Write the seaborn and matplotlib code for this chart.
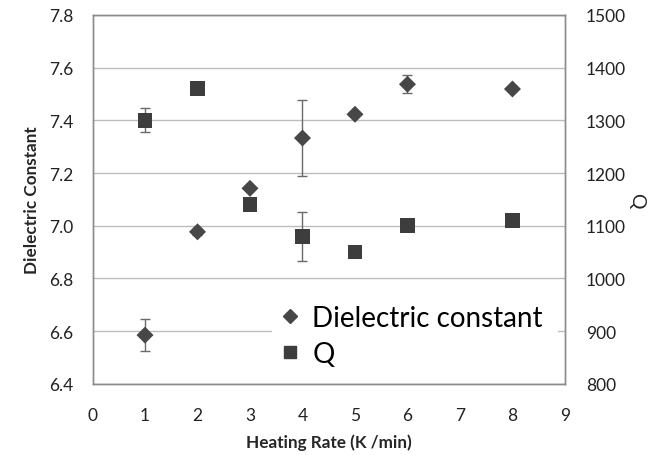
import matplotlib
matplotlib.use("Agg")
import matplotlib.pyplot as plt
import seaborn as sns
import pandas as pd

# ============================
# DATA
# ============================
heating_rate = [1, 2, 3, 4, 5, 6, 8]
dielectric = [6.585, 6.977, 7.142, 7.333, 7.423, 7.537, 7.519]
dielectric_err = [0.06, 0.012, 0.0, 0.145, 0.0, 0.035, 0.0]
q_values = [1300, 1360, 1140, 1080, 1050, 1100, 1110]
q_err = [23, 0, 0, 47, 0, 0, 0]

x_ticks = list(range(0, 10))
left_ticks = [6.4, 6.6, 6.8, 7.0, 7.2, 7.4, 7.6, 7.8]
right_ticks = [800, 900, 1000, 1100, 1200, 1300, 1400, 1500]

df = pd.DataFrame({
    "rate": heating_rate,
    "eps": dielectric,
    "eps_err": dielectric_err,
    "Q": q_values,
    "Q_err": q_err,
})

# ============================
# STYLE
# ============================
sns.set_style("white")
plt.rcParams["font.family"] = ["Lato", "DejaVu Sans"]

marker_col = "#474747"
err_col = "#6a6a6a"
grid_col = "#bdbdbd"
spine_col = "#8c8c8c"
text_col = "#222222"

fig = plt.figure(figsize=(6.67, 4.56), dpi=100)
ax1 = fig.add_axes([0.1387, 0.156, 0.7083, 0.809])
ax2 = ax1.twinx()

# ============================
# DIELECTRIC CONSTANT (left axis)
# ============================
ax1.errorbar(df["rate"], df["eps"], yerr=df["eps_err"], fmt="none",
             ecolor=err_col, elinewidth=1, capsize=3.5, capthick=1, zorder=2)
sns.scatterplot(data=df, x="rate", y="eps", ax=ax1, marker="D", s=75,
                color=marker_col, edgecolor="none", zorder=3, legend=False)

# ============================
# Q (right axis)
# ============================
ax2.errorbar(df["rate"], df["Q"], yerr=df["Q_err"], fmt="none",
             ecolor=err_col, elinewidth=1, capsize=3.5, capthick=1, zorder=2)
sns.scatterplot(data=df, x="rate", y="Q", ax=ax2, marker="s", s=110,
                color="#3d3d3d", edgecolor="none", zorder=3, legend=False)

# ============================
# AXES
# ============================
ax1.set_xlim(0, 9)
ax1.set_ylim(6.4, 7.8)
ax2.set_ylim(800, 1500)
ax1.set_xticks(x_ticks)
ax1.set_yticks(left_ticks)
ax1.set_yticklabels([f"{v:.1f}" for v in left_ticks])
ax2.set_yticks(right_ticks)

ax1.yaxis.grid(True, color=grid_col, linewidth=1)
ax1.set_axisbelow(True)

ax1.tick_params(axis="x", direction="in", length=5, width=1, color=spine_col,
                labelsize=12.5, pad=17, top=False, labelcolor=text_col)
ax1.tick_params(axis="y", length=0, labelsize=12.5, pad=14, labelcolor=text_col)
ax2.tick_params(axis="y", length=0, labelsize=12.5, pad=15, labelcolor=text_col)

for ax in (ax1, ax2):
    for sp in ax.spines.values():
        sp.set_color(spine_col)
        sp.set_linewidth(1)
        sp.set_visible(True)

ax1.set_xlabel("Heating Rate (K /min)", fontsize=12.3, fontweight="bold", labelpad=7)
ax1.set_ylabel("Dielectric Constant", fontsize=12.3, fontweight="bold", labelpad=6)
ax2.set_ylabel("Q", fontsize=14, rotation=270, labelpad=14)

# ============================
# LEGEND
# ============================
h1 = plt.Line2D([], [], marker="D", linestyle="none", color=marker_col, markersize=7)
h2 = plt.Line2D([], [], marker="s", linestyle="none", color="#3d3d3d", markersize=9)
leg = ax2.legend([h1, h2], ["Dielectric constant", "Q"], loc="lower left",
                 bbox_to_anchor=(0.38, 0.02, 0.605, 0.27), mode="expand",
                 fontsize=20, frameon=True, fancybox=False, framealpha=1,
                 handlelength=0.6, handletextpad=0.5, labelspacing=0.35,
                 borderpad=0.35, borderaxespad=0)
leg.get_frame().set_facecolor("white")
leg.get_frame().set_edgecolor("none")
for t in leg.get_texts():
    t.set_color("black")

fig.savefig("out.png", dpi=100, facecolor="white")
